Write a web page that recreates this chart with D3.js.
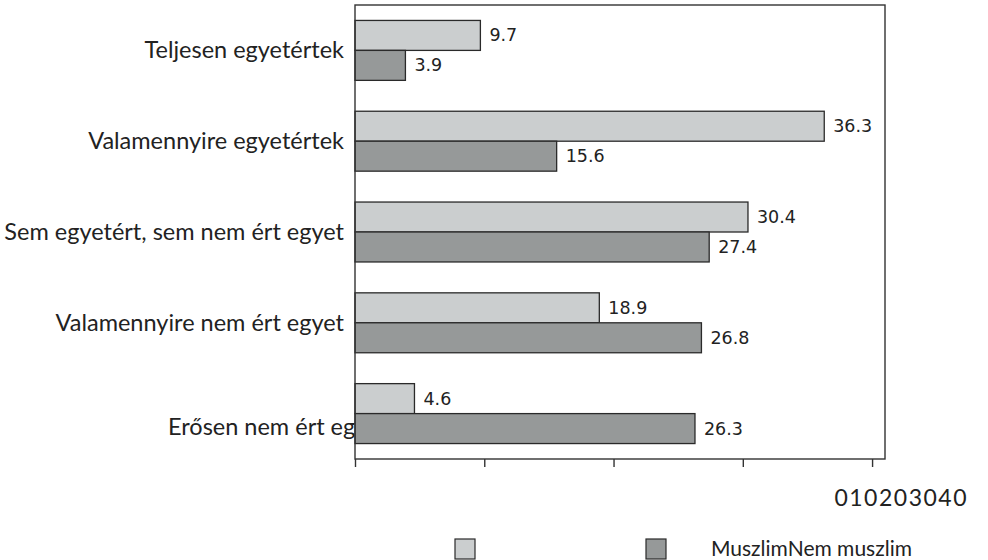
<!DOCTYPE html>
<html>
<head>
<meta charset="utf-8">
<script src="https://cdn.jsdelivr.net/npm/d3@7"></script>
<style>
  body { margin: 0; background: #fff; }
  .cat { font-family: Lato, "Open Sans", sans-serif; font-size: 23.5px; fill: #222; }
  .val { font-family: "DejaVu Sans", sans-serif; font-size: 17.5px; fill: #222; }
  .leg { font-family: Lato, "Open Sans", sans-serif; font-size: 21px; fill: #222; }
  .tick-txt { font-family: Lato, "Open Sans", sans-serif; font-size: 23px; letter-spacing: 1.5px; fill: #222; }
</style>
</head>
<body>
<div id="chart"></div>
<script>
// data
var categories = ["Teljesen egyetértek", "Valamennyire egyetértek", "Sem egyetért, sem nem ért egyet",
    "Valamennyire nem ért egyet", "Erősen nem ért egyet"];
var series = ["Muszlim", "Nem muszlim"];
var muszlim = [9.7, 36.3, 30.4, 18.9, 4.6];
var nem_muszlim = [3.9, 15.6, 27.4, 26.8, 26.3];
var x_ticks = [0, 10, 20, 30, 40];

var colors = ["#cbcecf", "#969999"];

var svg_width = 988;
var svg_height = 560;
var plot = { left: 355, right: 885, top: 5, bottom: 459 };

var svg = d3.select("#chart")
    .append("svg")
    .attr("width", svg_width)
    .attr("height", svg_height);

// build rows for the bars
var rows = categories.map(function(c, i) {
    return { category: c, values: [muszlim[i], nem_muszlim[i]] };
});

var x_scale = d3.scaleLinear()
    .domain([0, 41])
    .range([plot.left, plot.right]);

var y_scale = d3.scaleBand()
    .domain(categories)
    .range([plot.top, plot.bottom])
    .paddingInner(0.34)
    .paddingOuter(0.17);

var y_inner = d3.scaleBand()
    .domain(series)
    .range([0, y_scale.bandwidth()]);

// category labels (drawn first, the last one runs under the plot area)
var last = categories.length - 1;
svg.selectAll(".cat")
    .data(categories)
    .enter()
    .append("text")
    .attr("class", "cat")
    .attr("x", (d, i) => i == last ? 168 : plot.left - 11)
    .attr("y", (d, i) => y_scale(d) + y_scale.bandwidth() / 2 + (i == last ? 21 : 8))
    .attr("text-anchor", (d, i) => i == last ? "start" : "end")
    .text(d => d);

// plot background covers overflow
svg.append("rect")
    .attr("x", plot.left)
    .attr("y", plot.top)
    .attr("width", plot.right - plot.left)
    .attr("height", plot.bottom - plot.top)
    .attr("fill", "#fff");

var groups = svg.selectAll(".grp")
    .data(rows)
    .enter()
    .append("g")
    .attr("class", "grp")
    .attr("transform", d => `translate(0, ${y_scale(d.category)})`);

groups.selectAll("rect")
    .data(d => d.values.map((v, j) => ({ series: series[j], value: v, idx: j })))
    .enter()
    .append("rect")
    .attr("x", x_scale(0))
    .attr("y", d => y_inner(d.series))
    .attr("width", d => x_scale(d.value) - x_scale(0))
    .attr("height", y_inner.bandwidth())
    .attr("fill", d => colors[d.idx])
    .attr("stroke", "#2a2a2a")
    .attr("stroke-width", 1.3);

groups.selectAll(".val")
    .data(d => d.values.map((v, j) => ({ series: series[j], value: v })))
    .enter()
    .append("text")
    .attr("class", "val")
    .attr("x", d => x_scale(d.value) + 9)
    .attr("y", d => y_inner(d.series) + y_inner.bandwidth() / 2 + 6)
    .text(d => d.value.toFixed(1));

// frame
svg.append("rect")
    .attr("x", plot.left)
    .attr("y", plot.top)
    .attr("width", plot.right - plot.left)
    .attr("height", plot.bottom - plot.top)
    .attr("fill", "none")
    .attr("stroke", "#333")
    .attr("stroke-width", 1.4);

// x axis ticks, labels are run together at the right
var bottom_axis = d3.axisBottom(x_scale)
    .tickValues(x_ticks)
    .tickSize(8)
    .tickFormat("");

var x_axis = svg.append("g")
    .attr("transform", `translate(0, ${plot.bottom})`)
    .call(bottom_axis);
x_axis.select(".domain").remove();
x_axis.selectAll("line").attr("stroke", "#333").attr("stroke-width", 1.4);

svg.append("text")
    .attr("class", "tick-txt")
    .attr("x", 968)
    .attr("y", 506)
    .attr("text-anchor", "end")
    .text(x_ticks.join(""));

// legend
svg.selectAll(".legbox")
    .data(series)
    .enter()
    .append("rect")
    .attr("class", "legbox")
    .attr("x", (d, i) => i == 0 ? 455 : 646)
    .attr("y", 539)
    .attr("width", 20)
    .attr("height", 20)
    .attr("fill", (d, i) => colors[i])
    .attr("stroke", "#2a2a2a")
    .attr("stroke-width", 1.2);

svg.append("text")
    .attr("class", "leg")
    .attr("x", 711)
    .attr("y", 556)
    .text(series.join(""));
</script>
</body>
</html>
